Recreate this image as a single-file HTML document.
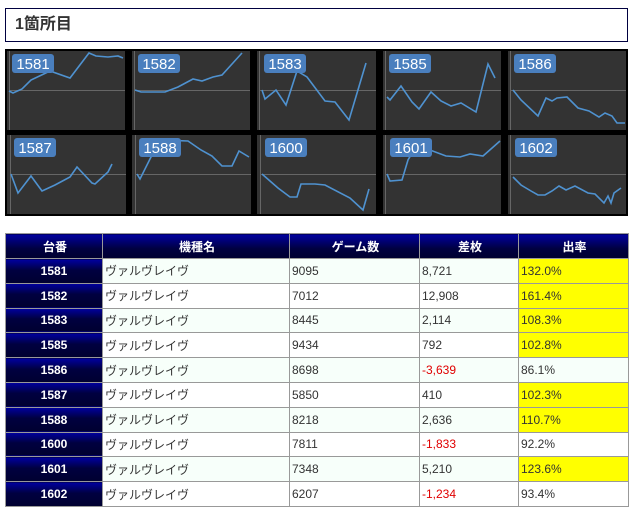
<!DOCTYPE html>
<html><head><meta charset="utf-8"><style>
body{margin:0;width:633px;height:511px;background:#fff;font-family:"Liberation Sans","Noto Sans CJK JP",sans-serif;position:relative;overflow:hidden}
.title{position:absolute;left:5px;top:8px;width:621px;height:32px;border:1px solid #000040;font-size:16px;font-weight:bold;color:#333;line-height:32px;box-sizing:content-box}
.title span{margin-left:9px}
svg{position:absolute;left:0;top:0}
table{position:absolute;left:5px;top:233px;width:623px;table-layout:fixed;border-collapse:collapse;font-size:12px;color:#333}
td,th{border:1px solid #999;height:23.8px;padding:0 0 0 2px;text-align:left;overflow:hidden;white-space:nowrap}
th{background:linear-gradient(#0000a0,#000040 60%,#000030);color:#fff;text-align:center;font-weight:bold;font-size:12px;height:24px}
td.n{color:#fff;font-weight:bold;text-align:center;padding:0}
tr:nth-child(even) td{background:#f7fffa}
tr td.n{background:linear-gradient(#0000a0,#000040 45%,#000030)!important}
td.y{background:#ffff00!important}
.r{color:#e00000}
</style></head><body>
<div class="title"><span>1箇所目</span></div>
<svg width="633" height="220" viewBox="0 0 633 220">
<rect x="5" y="49" width="623" height="167" fill="#000"/>
<g fill="#333">
<rect x="7" y="51" width="118" height="79"/><rect x="132" y="51" width="118" height="79"/><rect x="257" y="51" width="119" height="79"/><rect x="383" y="51" width="118" height="79"/><rect x="508" y="51" width="118" height="79"/>
<rect x="7" y="135" width="119" height="79"/><rect x="132" y="135" width="119" height="79"/><rect x="257" y="135" width="119" height="79"/><rect x="383" y="135" width="118" height="79"/><rect x="508" y="135" width="118" height="79"/>
</g>
<g stroke="#666" stroke-width="1">
<path d="M9.5 51V130M134.5 51V130M259.5 51V130M385.5 51V130M510.5 51V130M10.5 135V214M135.5 135V214M260.5 135V214M385.5 135V214M510.5 135V214"/>
<path d="M9 90.5H125M134 90.5H250M259 90.5H376M385 90.5H501M510 90.5H626M10 174.5H126M135 174.5H251M260 174.5H376M385 174.5H501M510 174.5H626"/>
</g>
<g fill="none" stroke="#4f92d0" stroke-width="1.6">
<polyline points="9,91 13,93 22,89 31,80 50,71 70,78 89,53 96,56 108,57 118,56 123,58"/>
<polyline points="135,90 141,92 165,92 178,87 193,79 202,81 213,77 222,75 242,53"/>
<polyline points="262,90 265,99 276,90 286,105 297,71 307,77 325,101 335,102 349,120 366,63"/>
<polyline points="387,97 390,100 401,86 412,102 419,109 431,92 441,101 451,106 461,103 476,112 488,64 495,78"/>
<polyline points="513,90 521,100 538,116 546,98 552,101 557,98 567,97 578,108 589,111 599,117 605,113 612,116 617,123 625,123"/>
<polyline points="11,174 18,193 31,176 42,191 55,185 70,177 77,167 92,183 95,184 108,172 112,164"/>
<polyline points="137,174 140,179 152,155 160,140 188,141 201,150 212,156 222,166 232,166 239,151 249,157"/>
<polyline points="262,174 278,188 290,197 297,197 301,184 315,184 325,185 350,198 363,210 369,189"/>
<polyline points="387,174 390,181 402,180 408,160 415,148 430,150 446,156 460,157 470,154 483,156 500,141"/>
<polyline points="513,177 521,185 531,191 538,195 545,195 552,191 559,186 566,190 575,186 588,193 595,194 604,203 608,196 611,203 614,193 621,188"/>
</g>
<g fill="#4a7fbe">
<rect x="12" y="54" width="42" height="19" rx="3"/><rect x="138" y="54" width="42" height="19" rx="3"/><rect x="264" y="54" width="42" height="19" rx="3"/><rect x="389" y="54" width="42" height="19" rx="3"/><rect x="514" y="54" width="42" height="19" rx="3"/>
<rect x="14" y="138" width="42" height="19" rx="3"/><rect x="139" y="138" width="42" height="19" rx="3"/><rect x="265" y="138" width="42" height="19" rx="3"/><rect x="390" y="138" width="42" height="19" rx="3"/><rect x="515" y="138" width="42" height="19" rx="3"/>
</g>
<g fill="#fff" font-family="Liberation Sans, sans-serif" font-size="15" text-anchor="middle">
<text x="33" y="69">1581</text><text x="159" y="69">1582</text><text x="285" y="69">1583</text><text x="410" y="69">1585</text><text x="535" y="69">1586</text>
<text x="35" y="153">1587</text><text x="160" y="153">1588</text><text x="286" y="153">1600</text><text x="411" y="153">1601</text><text x="536" y="153">1602</text>
</g>
</svg>
<table>
<colgroup><col style="width:97px"><col style="width:187px"><col style="width:130px"><col style="width:99px"><col style="width:110px"></colgroup>
<tr><th>台番</th><th>機種名</th><th>ゲーム数</th><th>差枚</th><th>出率</th></tr>
<tr><td class="n">1581</td><td>ヴァルヴレイヴ</td><td>9095</td><td>8,721</td><td class="y">132.0%</td></tr>
<tr><td class="n">1582</td><td>ヴァルヴレイヴ</td><td>7012</td><td>12,908</td><td class="y">161.4%</td></tr>
<tr><td class="n">1583</td><td>ヴァルヴレイヴ</td><td>8445</td><td>2,114</td><td class="y">108.3%</td></tr>
<tr><td class="n">1585</td><td>ヴァルヴレイヴ</td><td>9434</td><td>792</td><td class="y">102.8%</td></tr>
<tr><td class="n">1586</td><td>ヴァルヴレイヴ</td><td>8698</td><td class="r">-3,639</td><td>86.1%</td></tr>
<tr><td class="n">1587</td><td>ヴァルヴレイヴ</td><td>5850</td><td>410</td><td class="y">102.3%</td></tr>
<tr><td class="n">1588</td><td>ヴァルヴレイヴ</td><td>8218</td><td>2,636</td><td class="y">110.7%</td></tr>
<tr><td class="n">1600</td><td>ヴァルヴレイヴ</td><td>7811</td><td class="r">-1,833</td><td>92.2%</td></tr>
<tr><td class="n">1601</td><td>ヴァルヴレイヴ</td><td>7348</td><td>5,210</td><td class="y">123.6%</td></tr>
<tr><td class="n">1602</td><td>ヴァルヴレイヴ</td><td>6207</td><td class="r">-1,234</td><td>93.4%</td></tr>
</table>
</body></html>
